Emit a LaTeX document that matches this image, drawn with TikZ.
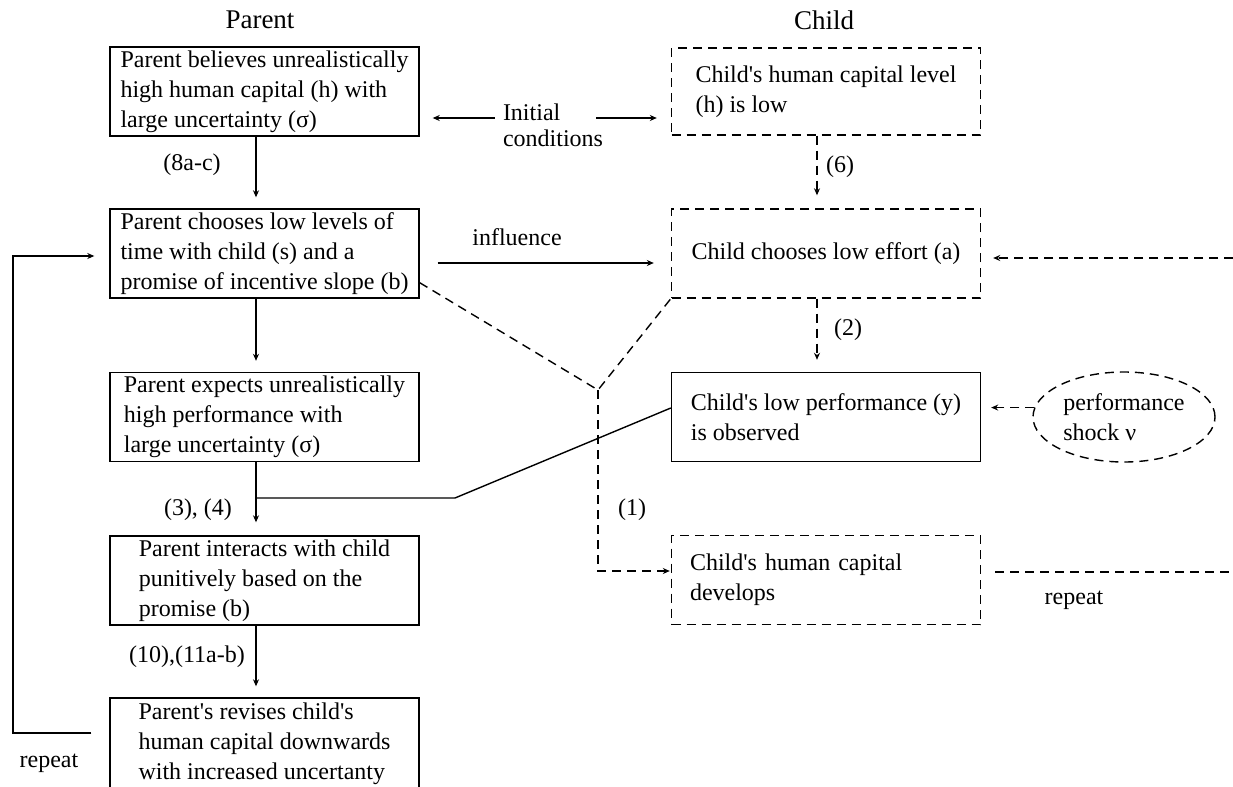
\documentclass[tikz,border=0pt]{standalone}
\usepackage{fontspec}
\setmainfont{Liberation Serif}
\usetikzlibrary{arrows.meta,shapes.geometric}
\newcommand{\apost}{\textquotesingle}
\tikzset{
	pbox/.style={draw, line width=0.7pt, minimum width=154.5pt, minimum height=44.5pt, align=left, inner sep=0pt},
	cbox/.style={pbox, dash pattern=on 4.5pt off 3pt},
	arr/.style={line width=0.7pt, -{Stealth[length=3.5pt,width=3pt]}},
	darr/.style={arr, dash pattern=on 4.5pt off 3pt},
	dline/.style={line width=0.7pt, dash pattern=on 4.5pt off 3pt},
}

\begin{document}
\begin{tikzpicture}[x=0.5pt, y=-0.5pt, font=\fontsize{12}{15}\selectfont]
			%%%%% START %%%%%
			\useasboundingbox (0,0) rectangle (1233,787);
			\clip (0,0) rectangle (1233,787);
			
			\node[font=\fontsize{13.5}{16}\selectfont] (ptitle) at (260,20) {Parent};
			\node[font=\fontsize{13.5}{16}\selectfont] (ctitle) at (824,20) {Child};
			
			\node[pbox] (believe) at (264.5,91.5) {Parent believes unrealistically\\high human capital (h) with\\large uncertainty (σ)};
			\node[pbox] (choose) at (264.5,253.5) {Parent chooses low levels of\\time with child (s) and a\\promise of incentive slope (b)};
			\node[pbox] (expect) at (264.5,417) {Parent expects unrealistically\\high performance with\\large uncertainty (σ)};
			\node[pbox] (interact) at (264.5,580.5) {Parent interacts with child\\punitively based on the\\promise (b)};
			\node[pbox, minimum height=46pt] (revise) at (264.5,744) {Parent\apost s revises child\apost s\\human capital downwards\\with increased uncertanty};
			
			\node[cbox, minimum height=43.5pt] (hlow) at (826,91.5) {Child\apost s human capital level\\(h) is low};
			\node[cbox] (effort) at (826,253.5) {Child chooses low effort (a)};
			\node[pbox] (perform) at (826,417) {Child\apost s low performance (y)\\is observed};
			\node[cbox, text width=136pt] (develop) at (826,580) {Child\apost s human capital\\develops};
			\node[ellipse, dline, draw, minimum width=91pt, minimum height=45pt, align=left, inner sep=0pt] (shock) at (1124,417) {performance\\shock ν};
			
			\coordinate (pcol) at (256,0);
			\coordinate (ccol) at (817,0);
			\coordinate (irow) at (0,118);
			\coordinate (infl) at (0,263);
			\coordinate (obs) at (455,498);
			\coordinate (meet) at (598,390);
			\coordinate (rin) at (1233,258);
			\coordinate (rout) at (1233,572);
			\coordinate (lbot) at (13,733);
			\coordinate (ltop) at (13,256);
			
			% parent side
			\draw[arr, shorten >=5.5pt] (believe.south -| pcol) -- (choose.north -| pcol);
			\draw[arr, shorten >=5.5pt] (choose.south -| pcol) -- (expect.north -| pcol);
			\draw[arr, shorten >=6.5pt] (expect.south -| pcol) -- (interact.north -| pcol);
			\draw[arr, shorten >=5.5pt] (interact.south -| pcol) -- (revise.north -| pcol);
			\node (l8) at (192,165) {(8a-c)};
			\node (l34) at (198,510) {(3), (4)};
			\node (l10) at (187,657) {(10),(11a-b)};
			
			\draw[arr, shorten <=9pt, shorten >=7.5pt] (revise.west |- lbot) -- (lbot) -- (ltop) -- (choose.west |- ltop);
			\node (rep1) at (49,763) {repeat};
			
			% between the columns
			\node[align=left, inner sep=0pt, font=\fontsize{12}{13}\selectfont] (init) at (553,125) {Initial\\conditions};
			\draw[arr, shorten <=4pt, shorten >=6.5pt] (init.west |- irow) -- (believe.east |- irow);
			\draw[arr, shorten <=-3.5pt, shorten >=7pt] (init.east |- irow) -- (hlow.west |- irow);
			
			\draw[arr, shorten <=9pt, shorten >=8.5pt] (choose.east |- infl) -- (effort.west |- infl);
			\node (linf) at (517,237) {influence};
			
			\draw[line width=0.7pt] (pcol |- obs) -- (obs) -- ([yshift=4.5pt]perform.west);
			
			\draw[dline] ([yshift=8pt]choose.south east) -- (meet) -- (effort.south west);
			\draw[darr, shorten >=0.5pt] (meet) |- ([yshift=4.5pt]develop.west);
			\node (l1) at (632,510) {(1)};
			
			% child side
			\draw[darr, shorten >=6.5pt] (hlow.south -| ccol) -- (effort.north -| ccol);
			\draw[darr, shorten >=6pt] (effort.south -| ccol) -- (perform.north -| ccol);
			\node (l6) at (840,167) {(6)};
			\node (l2) at (848,330) {(2)};
			
			\draw[darr, shorten >=5pt] (shock.174) -- (shock.174 -| perform.east);
			\draw[darr, shorten >=6pt] (rin) -- (rin -| effort.east);
			\draw[dline, shorten <=7pt] ([yshift=4pt]develop.east) -- (rout);
			\node (rep2) at (1074,600) {repeat};
			
			%%%%% END %%%%%
\end{tikzpicture}
\end{document}
